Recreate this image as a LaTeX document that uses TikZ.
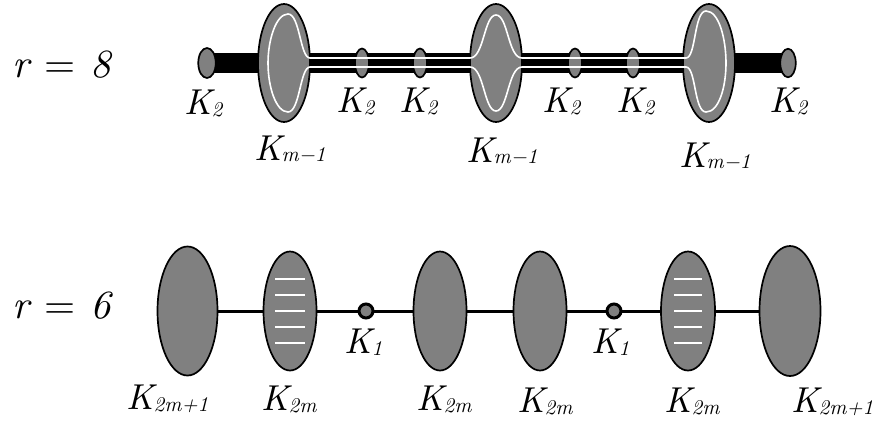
\documentclass[tikz,border=0pt]{standalone}
\usetikzlibrary{shapes.geometric}
\pgfdeclarelayer{bg}
\pgfsetlayers{bg,main}
\definecolor{blobgray}{RGB}{128,128,128}
\font\bigit="[lmroman10-italic]" at 36pt
\font\subit="[lmroman10-italic]" at 21pt
\font\rit="[lmroman10-italic]" at 40pt
\font\rrm="[lmroman10-regular]" at 40pt
\newcommand{\Klab}[2][0.2em]{{\bigit K}\kern-0.02em\raisebox{-#1}{\subit #2}}
\newcommand{\rlabtext}[1]{{\rit r}\hspace{15pt}{\rrm =}\hspace{15pt}{\rit #1}}
\begin{document}
\begin{tikzpicture}[x=1pt,y=-1pt,
  blob/.style={ellipse, draw=black, line width=1.7pt, fill=blobgray, inner sep=0pt},
  dot/.style={circle, draw=black, line width=3pt, fill=blobgray, inner sep=0pt, minimum size=14pt},
  bar/.style={line width=20.5pt, black},
  link/.style={line width=3pt, black},
  whiteline/.style={white, line width=1.6pt},
  stripe/.style={white, line width=2.7pt},
  lab/.style={inner sep=0pt, anchor=base west},
  rlab/.style={inner sep=0pt, anchor=base west}]
\useasboundingbox (0,0) rectangle (872,429);

% ---------- r = 8 row ----------
\node[rlab] (r8) at (12,77) {\rlabtext{8}};

\node[blob, minimum width=17.5pt, minimum height=30pt] (k2a) at (207,63) {};
\node[blob, minimum width=52pt, minimum height=118pt] (e1) at (284,63) {};
\node[blob, minimum width=14pt, minimum height=29pt] (k2b) at (362,63) {};
\node[blob, minimum width=14pt, minimum height=29pt] (k2c) at (420,63) {};
\node[blob, minimum width=52pt, minimum height=118pt] (e2) at (496,63) {};
\node[blob, minimum width=14pt, minimum height=29pt] (k2d) at (575,63) {};
\node[blob, minimum width=14pt, minimum height=29pt] (k2e) at (633,63) {};
\node[blob, minimum width=52pt, minimum height=118pt] (e3) at (709,63) {};
\node[blob, minimum width=15.5pt, minimum height=28.5pt] (k2f) at (788,63) {};

\begin{pgfonlayer}{bg}
\draw[bar] (k2a.center) -- (e1.center) -- (k2b.center) -- (k2c.center) -- (e2.center)
  -- (k2d.center) -- (k2e.center) -- (e3.center) -- (k2f.center);
\end{pgfonlayer}

\draw[whiteline] (310,58) .. controls (300,58) and (300,14) .. (288,14)
  .. controls (276,14) and (268,40) .. (268,63)
  .. controls (268,87) and (276,112) .. (288,112)
  .. controls (300,112) and (300,67) .. (310,67)
  -- (470,67)
  .. controls (484,67) and (484,111) .. (496,111)
  .. controls (508,111) and (508,67) .. (522,67)
  -- (686,67)
  .. controls (696,67) and (694,112) .. (706,112)
  .. controls (719,112) and (726,87) .. (726,63)
  .. controls (726,39) and (719,11) .. (706,11)
  .. controls (694,11) and (696,58) .. (686,58)
  -- (522,58)
  .. controls (508,58) and (508,15) .. (496,15)
  .. controls (484,15) and (484,58) .. (470,58)
  -- cycle;

\node[lab] (l2a) at (184,114) {\Klab{2}};
\node[lab] (l2b) at (336,112) {\Klab{2}};
\node[lab] (l2c) at (399,112) {\Klab{2}};
\node[lab] (l2d) at (542,112) {\Klab{2}};
\node[lab] (l2e) at (616,112) {\Klab{2}};
\node[lab] (l2f) at (769,112) {\Klab{2}};
\node[lab] (lm1) at (254,160) {\Klab[0.12em]{m−1}};
\node[lab] (lm2) at (466,162) {\Klab[0.12em]{m−1}};
\node[lab] (lm3) at (679,167) {\Klab[0.12em]{m−1}};

% ---------- r = 6 row ----------
\node[rlab] (r6) at (12,318) {\rlabtext{6}};

\node[blob, minimum width=60pt, minimum height=129pt] (b1) at (187.5,311) {};
\node[blob, minimum width=53pt, minimum height=119pt] (b2) at (290,311) {};
\node[dot] (c1) at (366,311) {};
\node[blob, minimum width=53pt, minimum height=119pt] (b3) at (440,311) {};
\node[blob, minimum width=53pt, minimum height=119pt] (b4) at (540,311) {};
\node[dot] (c2) at (614,311) {};
\node[blob, minimum width=54pt, minimum height=119pt] (b5) at (688,311) {};
\node[blob, minimum width=61pt, minimum height=130pt] (b6) at (790,311) {};

\begin{pgfonlayer}{bg}
\draw[link] (b1.center) -- (b2.center) -- (c1.center) -- (b3.center) -- (b4.center)
  -- (c2.center) -- (b5.center) -- (b6.center);
\end{pgfonlayer}

\begin{scope}[shift={(b2.center)}]
\foreach \d in {-32,-16,0,16,32} \draw[stripe] (-15,\d) -- (15,\d);
\end{scope}
\begin{scope}[shift={(b5.center)}]
\foreach \d in {-32,-16,0,16,32} \draw[stripe] (-14,\d) -- (14,\d);
\end{scope}

\node[lab] (lb1) at (126,409) {\Klab{2m+1}};
\node[lab] (lb2) at (261,410) {\Klab{2m}};
\node[lab] (lc1) at (344,353) {\Klab{1}};
\node[lab] (lb3) at (416,410) {\Klab{2m}};
\node[lab] (lb4) at (517,412) {\Klab{2m}};
\node[lab] (lc2) at (591,353) {\Klab{1}};
\node[lab] (lb5) at (664,412) {\Klab{2m}};
\node[lab] (lb6) at (791,412) {\Klab{2m+1}};
\end{tikzpicture}
\end{document}
